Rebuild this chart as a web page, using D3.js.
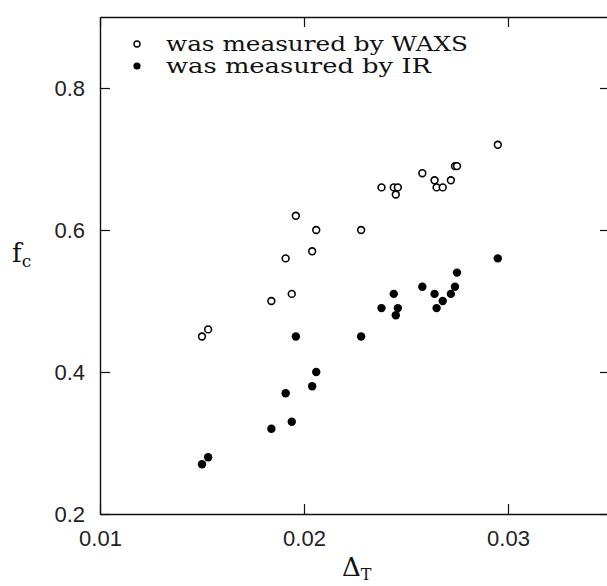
<!DOCTYPE html>
<html>
<head>
<meta charset="utf-8">
<script src="https://cdn.jsdelivr.net/npm/d3@7"></script>
<style>
  body { margin: 0; background: #fff; }
  svg { display: block; }
</style>
</head>
<body>
<div id="chart"></div>
<script>
// ---- data ----
const deltaT = [0.0150, 0.0153, 0.0184, 0.0191, 0.0194, 0.0196, 0.0204, 0.0206, 0.0228, 0.0238, 0.0244,
                0.0246, 0.0245, 0.0258, 0.0264, 0.0265, 0.0268, 0.0272, 0.0274, 0.0275, 0.0295];
const fcWaxs = [0.45, 0.46, 0.50, 0.56, 0.51, 0.62, 0.57, 0.60, 0.60, 0.66, 0.66,
                0.66, 0.65, 0.68, 0.67, 0.66, 0.66, 0.67, 0.69, 0.69, 0.72];
const fcIr   = [0.27, 0.28, 0.32, 0.37, 0.33, 0.45, 0.38, 0.40, 0.45, 0.49, 0.51,
                0.49, 0.48, 0.52, 0.51, 0.49, 0.50, 0.51, 0.52, 0.54, 0.56];
const xTicks = [0.01, 0.02, 0.03];
const yTicks = [0.2, 0.4, 0.6, 0.8];
const legendLabels = ["was measured by WAXS", "was measured by IR"];

// ---- layout ----
const width = 607, height = 586;
const plotLeft = 100, plotRight = 610, plotTop = 17, plotBottom = 514;

const svg = d3.select("#chart").append("svg")
  .attr("width", width)
  .attr("height", height)
  .style("background", "#fff");

const x = d3.scaleLinear().domain([0.01, 0.035]).range([plotLeft, plotRight]);
const y = d3.scaleLinear().domain([0.2, 0.9]).range([plotBottom, plotTop]);

const tickFont = "'Liberation Sans', Arial, sans-serif";
const serif = "'DejaVu Serif', 'Liberation Serif', serif";

function styleAxis(g) {
  g.select(".domain").attr("stroke", "#111").attr("stroke-width", 1.4);
  g.selectAll(".tick line").attr("stroke", "#111").attr("stroke-width", 1.2);
  g.selectAll(".tick text")
    .attr("font-family", tickFont)
    .attr("font-size", 22)
    .attr("fill", "#222");
}

// bottom axis with labels
svg.append("g")
  .attr("transform", `translate(0,${plotBottom})`)
  .call(d3.axisBottom(x).tickValues(xTicks).tickSizeInner(-10).tickSizeOuter(0)
    .tickPadding(16).tickFormat(d3.format(".2f")))
  .call(styleAxis);

// top axis, ticks only
svg.append("g")
  .attr("transform", `translate(0,${plotTop})`)
  .call(d3.axisTop(x).tickValues(xTicks).tickSizeInner(-10).tickSizeOuter(0).tickFormat(""))
  .call(styleAxis);

// left axis with labels
svg.append("g")
  .attr("transform", `translate(${plotLeft},0)`)
  .call(d3.axisLeft(y).tickValues(yTicks).tickSizeInner(-10).tickSizeOuter(0)
    .tickPadding(15).tickFormat(d3.format(".1f")))
  .call(styleAxis);

// right axis, ticks only
svg.append("g")
  .attr("transform", `translate(${plotRight},0)`)
  .call(d3.axisRight(y).tickValues(yTicks).tickSizeInner(-10).tickSizeOuter(0).tickFormat(""))
  .call(styleAxis);

// ---- points ----
const pts = deltaT.map((d, i) => ({ dt: d, waxs: fcWaxs[i], ir: fcIr[i] }));

svg.append("g").selectAll("circle")
  .data(pts)
  .join("circle")
  .attr("cx", d => x(d.dt))
  .attr("cy", d => y(d.waxs))
  .attr("r", 3.4)
  .attr("fill", "#fff")
  .attr("stroke", "#000")
  .attr("stroke-width", 1.6);

svg.append("g").selectAll("circle")
  .data(pts)
  .join("circle")
  .attr("cx", d => x(d.dt))
  .attr("cy", d => y(d.ir))
  .attr("r", 4.2)
  .attr("fill", "#000");

// ---- legend ----
const legend = svg.append("g").attr("font-family", serif).attr("font-size", 21).attr("fill", "#111");
legend.append("circle").attr("cx", 137).attr("cy", 44).attr("r", 3).attr("fill", "#fff")
  .attr("stroke", "#000").attr("stroke-width", 1.4);
legend.append("circle").attr("cx", 137).attr("cy", 66).attr("r", 3.6).attr("fill", "#000");
legend.append("text").attr("x", 166).attr("y", 51).attr("textLength", 302)
  .attr("lengthAdjust", "spacingAndGlyphs").text(legendLabels[0]);
legend.append("text").attr("x", 166).attr("y", 73).attr("textLength", 265)
  .attr("lengthAdjust", "spacingAndGlyphs").text(legendLabels[1]);

// ---- axis titles ----
const xt = svg.append("text").attr("x", 342).attr("y", 576)
  .attr("font-family", serif).attr("font-size", 26).attr("fill", "#111");
xt.append("tspan").text("Δ");
xt.append("tspan").attr("dy", 4).attr("font-size", 16).text("T");

const yt = svg.append("text").attr("x", 12).attr("y", 262)
  .attr("font-family", serif).attr("font-size", 26).attr("fill", "#111");
yt.append("tspan").text("f");
yt.append("tspan").attr("dy", 5).attr("font-size", 17).text("c");
</script>
</body>
</html>
